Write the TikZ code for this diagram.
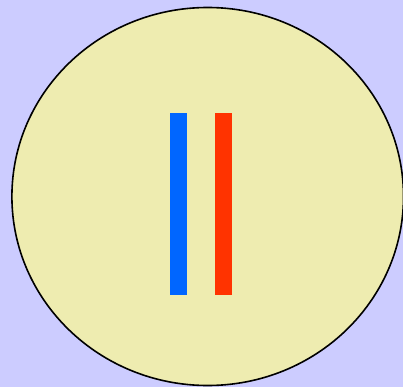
\documentclass[tikz,border=0pt]{standalone}
\usepackage{tikz}
\definecolor{bgLavender}{HTML}{CCCCFF}
\definecolor{discYellow}{HTML}{EEECB0}
\definecolor{barBlue}{HTML}{0066FF}
\definecolor{barRed}{HTML}{FF3300}
\begin{document}
\begin{tikzpicture}[
  x=1pt, y=-1pt,
  disc/.style={fill=discYellow, draw=black, line width=1.6pt},
  bar/.style={draw=none},
]

% ===== Background ==============================================================
\fill[bgLavender] (0,0) rectangle (403,387);
\useasboundingbox (0,0) rectangle (403,387);

% ===== Disc ====================================================================
\draw[disc] (207.7,196.5) ellipse [x radius=195.8, y radius=189];

% ===== Bars ====================================================================
\fill[barBlue, bar] (170,113.3) rectangle (186.5,295);
\fill[barRed, bar]  (215,113.3) rectangle (231.5,295);

\end{tikzpicture}
\end{document}
